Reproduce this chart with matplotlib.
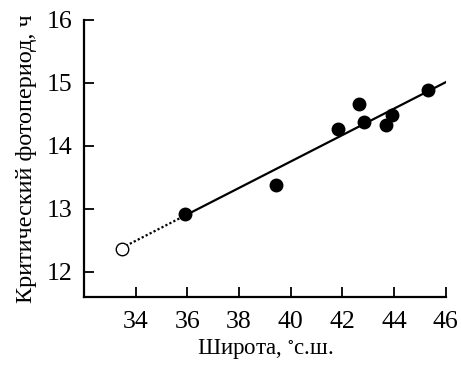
import numpy as np
import matplotlib
matplotlib.use("Agg")
import matplotlib.pyplot as plt

plt.rcParams['font.family'] = ['Liberation Serif', 'DejaVu Serif']
plt.rcParams['mathtext.fontset'] = 'stix'

# measured points (latitude, critical photoperiod)
lat = [35.93, 39.42, 41.82, 42.66, 42.85, 43.67, 43.93, 45.31]
photoperiod = [12.91, 13.37, 14.26, 14.66, 14.37, 14.33, 14.49, 14.88]

# extrapolated point (open circle)
lat_extra = [33.47]
photoperiod_extra = [12.36]

# regression line y = a + b*x
fit_a = 5.35
fit_b = 0.210
fit_solid = [35.93, 46.0]
fit_dotted = [33.47, 35.93]

xticks = [34, 36, 38, 40, 42, 44, 46]
yticks = [12, 13, 14, 15, 16]

fig = plt.figure(figsize=(4.61, 3.67), dpi=100)
ax = fig.add_axes([0.182, 0.191, 0.785, 0.755])

xs = np.array(fit_solid)
ax.plot(xs, fit_a + fit_b * xs, color='black', lw=1.6, zorder=2)
xd = np.array(fit_dotted)
ax.plot(xd, fit_a + fit_b * xd, color='black', lw=1.6, ls=(0, (1, 1)), zorder=2)

ax.plot(lat, photoperiod, 'o', color='black', ms=9, zorder=3)
ax.plot(lat_extra, photoperiod_extra, 'o', mfc='white', mec='black', mew=1.0, ms=9, zorder=3)

ax.set_xlim(32, 46)
ax.set_ylim(11.6, 16)
ax.set_xticks(xticks)
ax.set_yticks(yticks)
ax.spines['top'].set_visible(False)
ax.spines['right'].set_visible(False)
for s in ['left', 'bottom']:
    ax.spines[s].set_linewidth(1.6)
ax.tick_params(direction='in', length=7.5, width=1.3, labelsize=18.5, pad=8)
ax.tick_params(axis='x', pad=10)

ax.set_xlabel('Широта, $^{\\circ}$с.ш.', fontsize=16.5, labelpad=3)
ax.set_ylabel('Критический фотопериод, ч', fontsize=17.5, labelpad=7)

fig.savefig('out.png', dpi=100)
